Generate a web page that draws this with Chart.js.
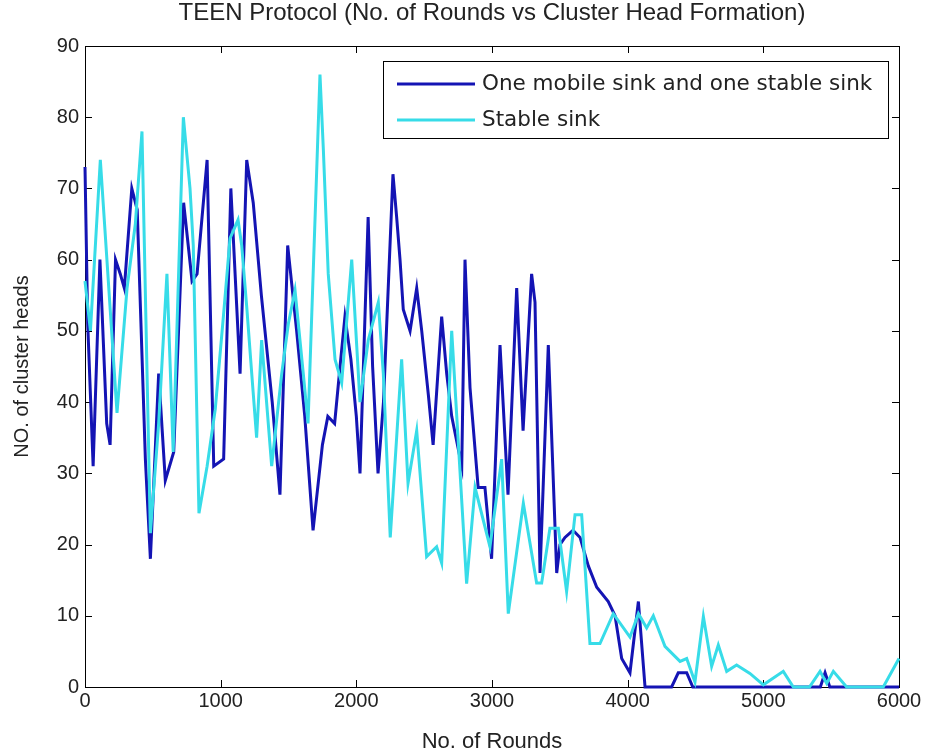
<!DOCTYPE html>
<html>
<head>
<meta charset="utf-8">
<title>TEEN Protocol</title>
<script src="https://cdn.jsdelivr.net/npm/chart.js@4.4.1/dist/chart.umd.min.js"></script>
<style>
  html, body { margin: 0; padding: 0; background: #fff; }
  #wrap { width: 927px; height: 755px; }
</style>
</head>
<body>
<div id="wrap"><canvas id="graph"></canvas></div>
<script>
// 図タイトルと凡例ラベル
const chartTitle = "TEEN Protocol (No. of Rounds vs Cluster Head Formation)";
const seriesNames = ["One mobile sink and one stable sink", "Stable sink"];

// One mobile sink and one stable sink（ラウンド, クラスタヘッド数）
const mobileRounds = [0, 20, 60, 110, 160, 185, 225, 260, 290, 345, 385, 445, 482, 543, 592, 654,
  727, 789, 826, 900, 949, 1022, 1075, 1143, 1192, 1240, 1300, 1380, 1437, 1494, 1560, 1620,
  1681, 1750, 1790, 1840, 1880, 1916, 1960, 2000, 2027, 2087, 2120, 2160, 2200, 2270, 2297,
  2322, 2346, 2396, 2445, 2482, 2531, 2566, 2629, 2666, 2703, 2777, 2801, 2838, 2898, 2948,
  2997, 3059, 3118, 3182, 3229, 3292, 3317, 3354, 3415, 3477, 3501, 3538, 3597, 3649, 3710,
  3772, 3857, 3907, 3956, 4017, 4079, 4128, 4324, 4373, 4435, 4480, 5420, 5455, 5490, 6000];
const mobileHeads = [73, 51, 31, 60, 37, 34, 60, 58, 56, 70, 67, 32, 18, 44, 29, 33,
  68, 57, 58, 74, 31, 32, 70, 44, 74, 68, 55, 40, 27, 62, 50, 38,
  22, 34, 38, 37, 45, 52, 46, 38, 30, 66, 45, 30, 40, 72, 66,
  60, 53, 50, 56, 50, 41, 34, 52, 44, 38, 31, 60, 42, 28, 28,
  18, 48, 27, 56, 36, 58, 54, 16, 48, 16, 20, 21, 22, 21, 17,
  14, 12, 10, 4, 2, 12, 0, 0, 2, 2, 0, 0, 2, 0, 0];

// Stable sink（ラウンド, クラスタヘッド数）
const stableRounds = [0, 40, 113, 236, 310, 371, 420, 482, 543, 604, 650, 725, 774, 798, 840,
  900, 960, 1020, 1069, 1128, 1155, 1192, 1229, 1265, 1302, 1376, 1450, 1499, 1548, 1609,
  1644, 1732, 1757, 1793, 1843, 1892, 1966, 2027, 2088, 2162, 2199, 2250, 2334, 2381, 2445,
  2518, 2592, 2629, 2703, 2813, 2875, 2985, 3071, 3120, 3231, 3329, 3366, 3427, 3489, 3550,
  3612, 3661, 3722, 3796, 3894, 4017, 4079, 4140, 4189, 4275, 4386, 4435, 4496, 4558, 4619,
  4668, 4730, 4803, 4901, 5000, 5147, 5221, 5340, 5418, 5467, 5516, 5614, 5884, 6000];
const stableHeads = [57, 50, 74, 38.5, 56, 65, 78, 21.6, 37, 58, 33, 80, 70, 62, 24.4,
  31, 39, 52, 63, 65.6, 62, 53.4, 44, 35, 48.7, 31, 44, 51, 55.7, 44,
  37, 86, 75.4, 58, 46, 42.7, 60, 40, 48.7, 54, 44, 21, 46, 28.6, 36,
  18.3, 19.7, 17.4, 50, 14.5, 28, 19.7, 32, 10.3, 25.8, 14.6, 14.6, 22.3, 22.3, 13.4,
  24.2, 24.2, 6.1, 6.1, 10.3, 7, 10.3, 8.3, 10, 5.7, 3.6, 4, 0.7, 9.9, 2.9,
  5.9, 2.2, 3.1, 1.9, 0.3, 2.2, 0, 0, 2.2, 0.5, 2.2, 0, 0, 4];

// 軸の目盛
const xTicks = [0, 1000, 2000, 3000, 4000, 5000, 6000];
const yTicks = [0, 10, 20, 30, 40, 50, 60, 70, 80, 90];

const colors = ["rgb(20, 20, 180)", "rgb(55, 220, 232)"];
const font = "'Liberation Sans', Arial, sans-serif";

const toPoints = (xs, ys) => xs.map((x, i) => ({ x: x, y: ys[i] }));

// MATLAB風の枠・内向き目盛・タイトル・凡例
const matlabFrame = {
  id: "matlabFrame",
  beforeDatasetsDraw(chart) {
    const { ctx, chartArea: a, scales } = chart;
    ctx.save();
    ctx.strokeStyle = "#000";
    ctx.lineWidth = 1;
    ctx.strokeRect(Math.round(a.left) + 0.5, Math.round(a.top) + 0.5,
      Math.round(a.width), Math.round(a.height));
    ctx.beginPath();
    xTicks.forEach((v) => {
      const px = Math.round(scales.x.getPixelForValue(v)) + 0.5;
      ctx.moveTo(px, a.bottom); ctx.lineTo(px, a.bottom - 7);
      ctx.moveTo(px, a.top); ctx.lineTo(px, a.top + 7);
    });
    yTicks.forEach((v) => {
      const py = Math.round(scales.y.getPixelForValue(v)) + 0.5;
      ctx.moveTo(a.left, py); ctx.lineTo(a.left + 7, py);
      ctx.moveTo(a.right, py); ctx.lineTo(a.right - 7, py);
    });
    ctx.stroke();

    // タイトルはプロット領域の中央に
    ctx.fillStyle = "#222";
    ctx.font = "24px " + font;
    ctx.textAlign = "center";
    ctx.textBaseline = "middle";
    ctx.fillText(chartTitle, (a.left + a.right) / 2, 13);
    ctx.restore();
  },
  afterDatasetsDraw(chart) {
    const { ctx } = chart;
    const box = { x: 383, y: 61, w: 505, h: 77 };
    ctx.save();
    ctx.fillStyle = "#fff";
    ctx.fillRect(box.x, box.y, box.w, box.h);
    ctx.strokeStyle = "#000";
    ctx.lineWidth = 1;
    ctx.strokeRect(box.x + 0.5, box.y + 0.5, box.w, box.h);
    ctx.font = "21.5px 'DejaVu Sans', sans-serif";
    ctx.textBaseline = "middle";
    seriesNames.forEach((name, i) => {
      const y = box.y + 23 + i * 36;
      ctx.strokeStyle = colors[i];
      ctx.lineWidth = 3;
      ctx.beginPath();
      ctx.moveTo(box.x + 14, y);
      ctx.lineTo(box.x + 92, y);
      ctx.stroke();
      ctx.fillStyle = "#222";
      ctx.fillText(name, box.x + 99, y);
    });
    ctx.restore();
  },
};

const data = {
  datasets: [
    {
      label: seriesNames[0],
      data: toPoints(mobileRounds, mobileHeads),
      borderColor: colors[0],
      backgroundColor: colors[0],
      order: 1,
    },
    {
      label: seriesNames[1],
      data: toPoints(stableRounds, stableHeads),
      borderColor: colors[1],
      backgroundColor: colors[1],
      order: 0,
    },
  ],
};

const config = {
  type: "line",
  data: data,
  options: {
    responsive: true,
    maintainAspectRatio: false,
    animation: false,
    layout: { padding: { top: 46, right: 28, bottom: 0, left: 0 } },
    elements: {
      line: { borderWidth: 3, tension: 0 },
      point: { radius: 0 },
    },
    datasets: { line: { clip: false } },
    scales: {
      x: {
        type: "linear",
        min: 0,
        max: 6000,
        afterFit: (s) => { s.height = 68; },
        afterBuildTicks: (s) => { s.ticks = xTicks.map((v) => ({ value: v })); },
        grid: { display: false, drawTicks: false },
        border: { display: false },
        ticks: {
          color: "#222",
          font: { family: font, size: 20 },
          padding: 2,
          maxRotation: 0,
          callback: (v) => String(v),
        },
        title: {
          display: true,
          text: "No. of Rounds",
          color: "#222",
          font: { family: font, size: 22 },
          padding: { top: 0, bottom: 0 },
        },
      },
      y: {
        min: 0,
        max: 90,
        afterFit: (s) => { s.width = 85; },
        afterBuildTicks: (s) => { s.ticks = yTicks.map((v) => ({ value: v })); },
        grid: { display: false, drawTicks: false },
        border: { display: false },
        ticks: {
          color: "#222",
          font: { family: font, size: 20 },
          padding: 6,
          callback: (v) => String(v),
        },
        title: {
          display: true,
          text: "NO. of cluster heads",
          color: "#222",
          font: { family: font, size: 20 },
          padding: { top: 10, bottom: 0 },
        },
      },
    },
    plugins: {
      legend: { display: false },
      tooltip: { enabled: false },
      title: { display: false },
    },
  },
  plugins: [matlabFrame],
};

let myChart = new Chart(document.getElementById("graph"), config);
</script>
</body>
</html>
